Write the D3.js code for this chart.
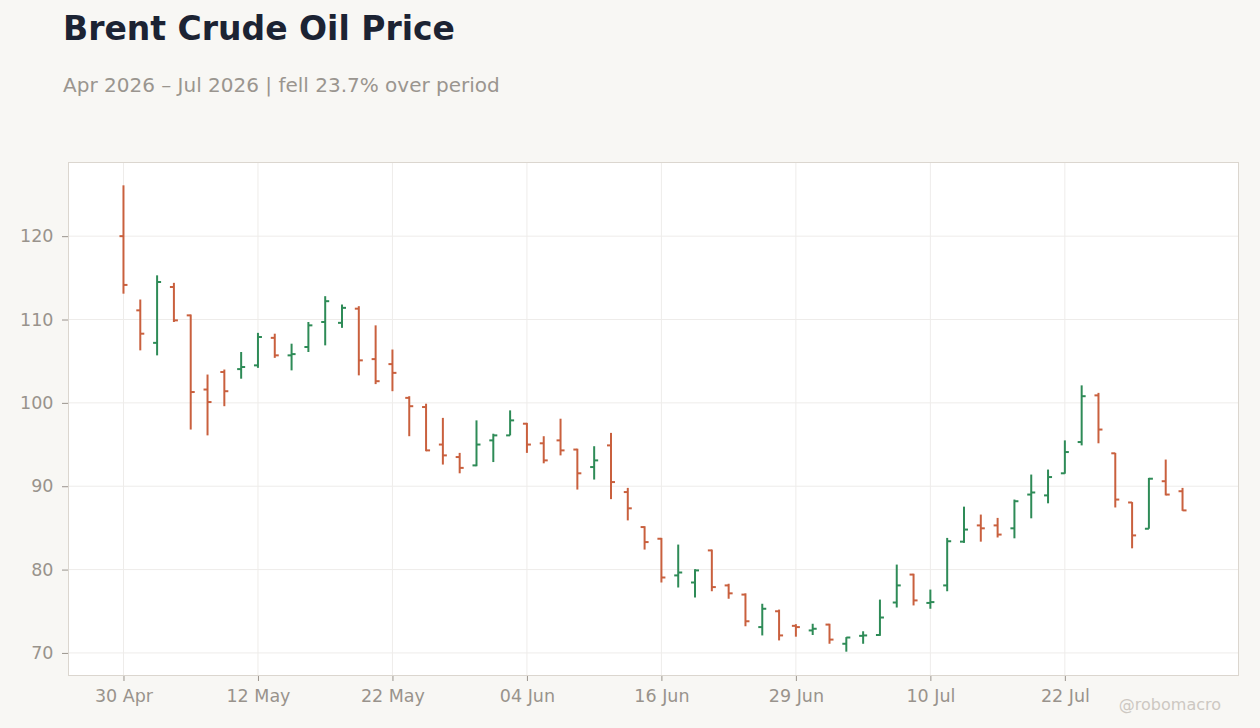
<!DOCTYPE html>
<html>
<head>
<meta charset="utf-8">
<script src="https://cdn.jsdelivr.net/npm/d3@7"></script>
<style>
  html, body { margin: 0; padding: 0; background: #f8f7f4; }
  svg { display: block; font-family: "DejaVu Sans", sans-serif; }
</style>
</head>
<body>
<svg width="1260" height="728"></svg>
<script>
// trading days (US calendar, holidays skipped)
var dates = [
  "2026-04-30", "2026-05-01", "2026-05-04", "2026-05-05", "2026-05-06", "2026-05-07", "2026-05-08",
  "2026-05-11", "2026-05-12", "2026-05-13", "2026-05-14", "2026-05-15",
  "2026-05-18", "2026-05-19", "2026-05-20", "2026-05-21", "2026-05-22",
  "2026-05-26", "2026-05-27", "2026-05-28", "2026-05-29",
  "2026-06-01", "2026-06-02", "2026-06-03", "2026-06-04", "2026-06-05",
  "2026-06-08", "2026-06-09", "2026-06-10", "2026-06-11", "2026-06-12",
  "2026-06-15", "2026-06-16", "2026-06-17", "2026-06-18",
  "2026-06-22", "2026-06-23", "2026-06-24", "2026-06-25", "2026-06-26",
  "2026-06-29", "2026-06-30", "2026-07-01", "2026-07-02",
  "2026-07-06", "2026-07-07", "2026-07-08", "2026-07-09", "2026-07-10",
  "2026-07-13", "2026-07-14", "2026-07-15", "2026-07-16", "2026-07-17",
  "2026-07-20", "2026-07-21", "2026-07-22", "2026-07-23", "2026-07-24",
  "2026-07-27", "2026-07-28", "2026-07-29", "2026-07-30", "2026-07-31"
];

var open = [
  120.0, 111.1, 107.2, 113.9, 110.5, 101.6, 103.7, 104.05, 104.5, 107.8, 105.7, 106.7, 109.7, 109.6,
  111.3, 105.25, 104.65, 100.6, 99.5, 95.0, 93.5, 92.5, 95.5, 96.1, 97.5, 95.15, 95.5, 94.4,
  92.3, 94.9, 89.3, 85.1, 83.7, 79.3, 78.45, 82.3, 78.1, 77.0, 73.1, 75.0, 73.25, 72.7,
  73.4, 71.1, 72.05, 72.15, 76.05, 79.4, 76.0, 78.1, 83.35, 85.3, 85.3, 84.95, 89.0, 88.9,
  91.55, 95.3, 100.9, 93.95, 88.05, 84.9, 90.6, 89.4
];
var high = [
  126.1, 112.4, 115.3, 114.4, 110.6, 103.4, 104.0, 106.1, 108.4, 108.3, 107.1, 109.7, 112.8, 111.8,
  111.6, 109.3, 106.4, 100.8, 99.9, 98.2, 94.0, 97.9, 96.3, 99.1, 97.6, 96.0, 98.1, 94.5,
  94.8, 96.4, 89.8, 85.2, 83.8, 83.0, 80.05, 82.4, 78.3, 77.15, 75.9, 75.2, 73.45, 73.5,
  73.5, 71.9, 72.6, 76.4, 80.6, 79.5, 77.6, 83.8, 87.55, 86.6, 86.2, 88.4, 91.4, 92.0,
  95.5, 102.1, 101.2, 94.0, 88.1, 91.0, 93.2, 89.8
];
var low = [
  113.1, 106.3, 105.7, 109.7, 96.8, 96.1, 99.6, 102.9, 104.2, 105.4, 103.9, 106.1, 106.9, 109.0,
  103.3, 102.25, 101.4, 96.0, 94.2, 92.6, 91.55, 92.4, 92.9, 96.1, 94.0, 92.75, 93.7, 89.6,
  90.8, 88.45, 85.9, 82.4, 78.45, 77.85, 76.65, 77.4, 76.5, 73.2, 72.1, 71.5, 71.95, 72.15,
  71.1, 70.15, 71.1, 72.05, 75.45, 75.7, 75.3, 77.4, 83.2, 83.35, 83.85, 83.75, 86.15, 87.95,
  91.5, 94.9, 95.15, 87.45, 82.55, 84.9, 88.9, 87.05
];
var close = [
  114.15, 108.3, 114.5, 109.9, 101.3, 100.1, 101.4, 104.3, 107.9, 105.7, 105.85, 109.3, 112.2, 111.4,
  105.1, 102.6, 103.6, 99.6, 94.3, 93.7, 92.2, 95.0, 96.1, 97.9, 95.0, 93.1, 94.3, 91.55,
  93.1, 90.5, 87.35, 83.3, 79.05, 79.65, 79.9, 77.9, 77.15, 73.8, 75.3, 72.1, 73.1, 72.9,
  71.6, 71.85, 72.1, 74.25, 78.1, 76.3, 76.1, 83.4, 84.8, 84.95, 84.2, 88.2, 89.25, 91.1,
  94.1, 100.8, 96.8, 88.4, 84.1, 90.9, 89.0, 87.1
];

var yTicks = [70, 80, 90, 100, 110, 120];
var xTickEvery = 8;

var titleText = "Brent Crude Oil Price";
var subtitleText = "Apr 2026 \u2013 Jul 2026 | fell 23.7% over period";
var creditText = "@robomacro";

var upColor = "#2e8b57",
  downColor = "#c9603e";

// The svg
var svg = d3.select("svg"),
  width = +svg.attr("width"),
  height = +svg.attr("height");

var margin = { top: 162, right: 22, bottom: 53, left: 68 };
var innerW = width - margin.left - margin.right,
  innerH = height - margin.top - margin.bottom;

var parse = d3.timeParse("%Y-%m-%d"),
  fmt = d3.timeFormat("%d %b");

var bars = dates.map((d, i) => ({
  date: d,
  open: open[i],
  high: high[i],
  low: low[i],
  close: close[i]
}));

// scales
var x = d3.scalePoint().domain(dates).range([0, innerW]).padding(3.3);

var lo = d3.min(low),
  hi = d3.max(high),
  pad = (hi - lo) * 0.05;
var y = d3.scaleLinear().domain([lo - pad, hi + pad]).range([innerH, 0]);

// titles
svg.append("text")
  .attr("x", 63).attr("y", 40)
  .attr("font-size", 33).attr("font-weight", "bold")
  .attr("fill", "#1c2333")
  .text(titleText);

svg.append("text")
  .attr("x", 63).attr("y", 92)
  .attr("font-size", 20)
  .attr("fill", "#9a958f")
  .text(subtitleText);

const g = svg.append("g").attr("transform", `translate(${margin.left},${margin.top})`);

// plot background
g.append("rect")
  .attr("width", innerW).attr("height", innerH)
  .attr("fill", "#ffffff");

var xTickVals = dates.filter((d, i) => i % xTickEvery === 0);

// grid
g.append("g").selectAll("line.h")
  .data(yTicks).enter().append("line")
  .attr("x1", 0).attr("x2", innerW)
  .attr("y1", (d) => y(d)).attr("y2", (d) => y(d))
  .attr("stroke", "#eeecea").attr("stroke-width", 1);

g.append("g").selectAll("line.v")
  .data(xTickVals).enter().append("line")
  .attr("x1", (d) => x(d)).attr("x2", (d) => x(d))
  .attr("y1", 0).attr("y2", innerH)
  .attr("stroke", "#eeecea").attr("stroke-width", 1);

// frame
g.append("rect")
  .attr("x", 0.5).attr("y", 0.5)
  .attr("width", innerW).attr("height", innerH)
  .attr("fill", "none")
  .attr("stroke", "#dbd6cf");

// axes
var yAxis = g.append("g")
  .call(d3.axisLeft(y).tickValues(yTicks).tickSize(6).tickPadding(8.5).tickFormat(d3.format("d")));
var xAxis = g.append("g")
  .attr("transform", `translate(0,${innerH + 1})`)
  .call(d3.axisBottom(x).tickValues(xTickVals).tickSize(5).tickPadding(9).tickFormat((d) => fmt(parse(d))));

[yAxis, xAxis].forEach((a) => {
  a.select(".domain").remove();
  a.selectAll(".tick line").attr("stroke", "#9a948d");
  a.selectAll(".tick text")
    .attr("fill", "#99938c")
    .attr("font-size", 17.5)
    .attr("font-family", "DejaVu Sans, sans-serif");
});

// OHLC bars
var tick = 4;
var ohlc = g.append("g").selectAll("g")
  .data(bars).enter().append("g")
  .attr("stroke", (d) => (d.close >= d.open ? upColor : downColor))
  .attr("stroke-width", 2);

ohlc.append("line")
  .attr("x1", (d) => x(d.date)).attr("x2", (d) => x(d.date))
  .attr("y1", (d) => y(d.high)).attr("y2", (d) => y(d.low));

ohlc.append("line")
  .attr("x1", (d) => x(d.date) - tick).attr("x2", (d) => x(d.date))
  .attr("y1", (d) => y(d.open)).attr("y2", (d) => y(d.open));

ohlc.append("line")
  .attr("x1", (d) => x(d.date)).attr("x2", (d) => x(d.date) + tick)
  .attr("y1", (d) => y(d.close)).attr("y2", (d) => y(d.close));

// credit
svg.append("text")
  .attr("x", 1221).attr("y", 710)
  .attr("text-anchor", "end")
  .attr("font-size", 16)
  .attr("fill", "#cdc8c2")
  .text(creditText);
</script>
</body>
</html>
